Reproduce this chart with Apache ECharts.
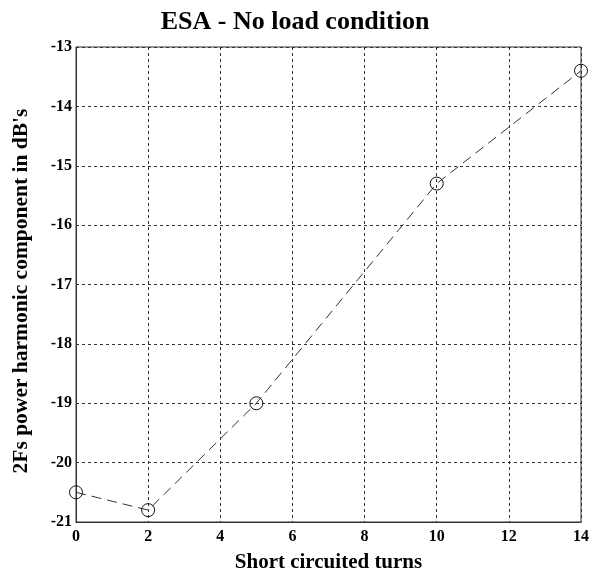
<!DOCTYPE html>
<html><head><meta charset="utf-8">
<script src="https://cdn.jsdelivr.net/npm/echarts@6/dist/echarts.min.js"></script>
<style>html,body{margin:0;padding:0;background:#fff}#c{width:592px;height:578px}</style>
</head><body><div id="c"></div>
<script>
const titleText = 'ESA - No load condition';
const xName = 'Short circuited turns';
const yName = "2Fs power harmonic component in dB's";
const turns = [0, 2, 5, 10, 14];
const harmonicDb = [-20.5, -20.8, -19.0, -15.3, -13.4];

const font = '"Liberation Serif", "Times New Roman", serif';
const chart = echarts.init(document.getElementById('c'));
chart.setOption({
  animation: false,
  backgroundColor: '#fff',
  title: { text: titleText, left: 290, textAlign: 'center', top: 4, textStyle: { fontFamily: font, fontWeight: 'bold', fontSize: 26, color: '#000' } },
  grid: { left: 76, right: 11, top: 47, bottom: 47, show: true, borderColor: '#333', borderWidth: 1 },
  graphic: [{
    type: 'text', x: 21, y: 291, rotation: Math.PI / 2,
    style: { text: yName, fontFamily: font, fontWeight: 'bold', fontSize: 21.5, fill: '#000', textAlign: 'center', textVerticalAlign: 'middle' }
  }],
  xAxis: {
    type: 'value', min: 0, max: 14, interval: 2,
    name: xName, nameLocation: 'middle', nameGap: 30,
    nameTextStyle: { fontFamily: font, fontWeight: 'bold', fontSize: 21, color: '#000' },
    axisLine: { show: true, lineStyle: { color: '#333' } },
    axisTick: { show: false },
    axisLabel: { fontFamily: font, fontWeight: 'bold', fontSize: 16, color: '#000', margin: 7 },
    splitLine: { show: true, lineStyle: { color: '#333', type: [3, 3], width: 1 } }
  },
  yAxis: {
    type: 'value', min: -21, max: -13, interval: 1,
    axisLine: { show: true, lineStyle: { color: '#333' } },
    axisTick: { show: false },
    axisLabel: { fontFamily: font, fontWeight: 'bold', fontSize: 16, color: '#000', margin: 4 },
    splitLine: { show: true, lineStyle: { color: '#333', type: [3, 3], width: 1 } }
  },
  series: [{
    type: 'line',
    data: turns.map((t, i) => [t, harmonicDb[i]]),
    symbol: 'circle', symbolSize: 13,
    itemStyle: { color: 'rgba(0,0,0,0)', borderColor: '#111', borderWidth: 1 },
    lineStyle: { color: '#333', width: 1, type: [10, 6] },
    clip: false
  }]
});
</script></body></html>
